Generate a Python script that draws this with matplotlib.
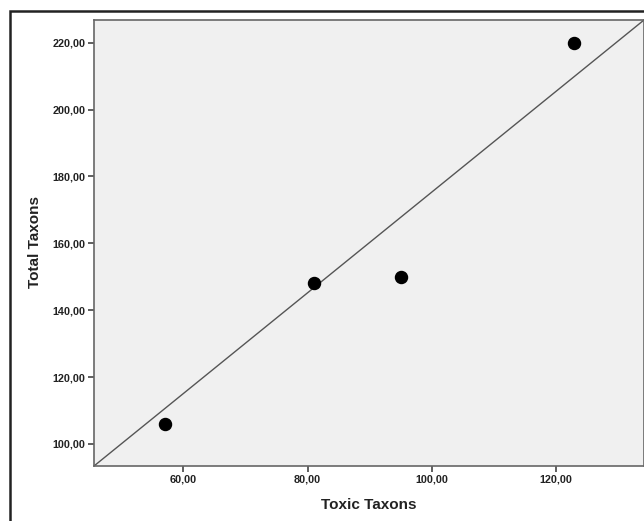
import matplotlib as mpl
import matplotlib.pyplot as plt
from matplotlib.patches import Rectangle

# values
toxic_taxons = [57, 81, 95, 123]
total_taxons = [106, 148, 150, 220]

x_ticks = [60, 80, 100, 120]
y_ticks = [100, 120, 140, 160, 180, 200, 220]

mpl.rcParams['font.family'] = ['Liberation Sans', 'DejaVu Sans']
mpl.rcParams['font.weight'] = 'bold'

W, H, dpi = 644, 521, 100.0
fig = plt.figure(figsize=(W / dpi, H / dpi), dpi=dpi)
fig.patch.set_facecolor('w')

# outer chart frame (runs off the right/bottom edge like the screenshot)
fig.patches.append(Rectangle((10 / W, -0.05), 1.2, 1 - 11 / H + 0.05,
                             transform=fig.transFigure, fill=False,
                             edgecolor='#222222', linewidth=1.8, zorder=0))

ax = fig.add_axes([94 / W, 1 - 466 / H, (644 - 94) / W, (466 - 20) / H])
ax.set_facecolor('#f0f0f0')

ax.scatter(toxic_taxons, total_taxons, s=75, color='black', zorder=3)

# diagonal reference line corner to corner
ax.plot([0, 1], [0, 1], transform=ax.transAxes, color='#555555', linewidth=1.0)

ax.set_xlim(45.6, 134.2)
ax.set_ylim(93.4, 226.8)
ax.set_xticks(x_ticks)
ax.set_yticks(y_ticks)
ax.set_xticklabels([('%.2f' % v).replace('.', ',') for v in x_ticks])
ax.set_yticklabels([('%.2f' % v).replace('.', ',') for v in y_ticks])

for s in ax.spines.values():
    s.set_color('#666666')
    s.set_linewidth(1.2)

ax.tick_params(direction='out', length=4, width=1.2, color='#444444',
               labelsize=7.8, labelcolor='#222222', pad=2)

ax.set_xlabel('Toxic Taxons', fontsize=11, fontweight='bold', color='#222222')
ax.set_ylabel('Total Taxons', fontsize=11, fontweight='bold', color='#222222')
ax.xaxis.set_label_coords(0.5, -(505 - 466) / 446, transform=ax.transAxes)
ax.yaxis.set_label_coords(-(94 - 35) / 550, 0.5 - (242 - 243) / 446)
ax.xaxis.label.set_va('center')
ax.yaxis.label.set_va('center')

plt.savefig('out.png', dpi=dpi, facecolor=fig.get_facecolor())
